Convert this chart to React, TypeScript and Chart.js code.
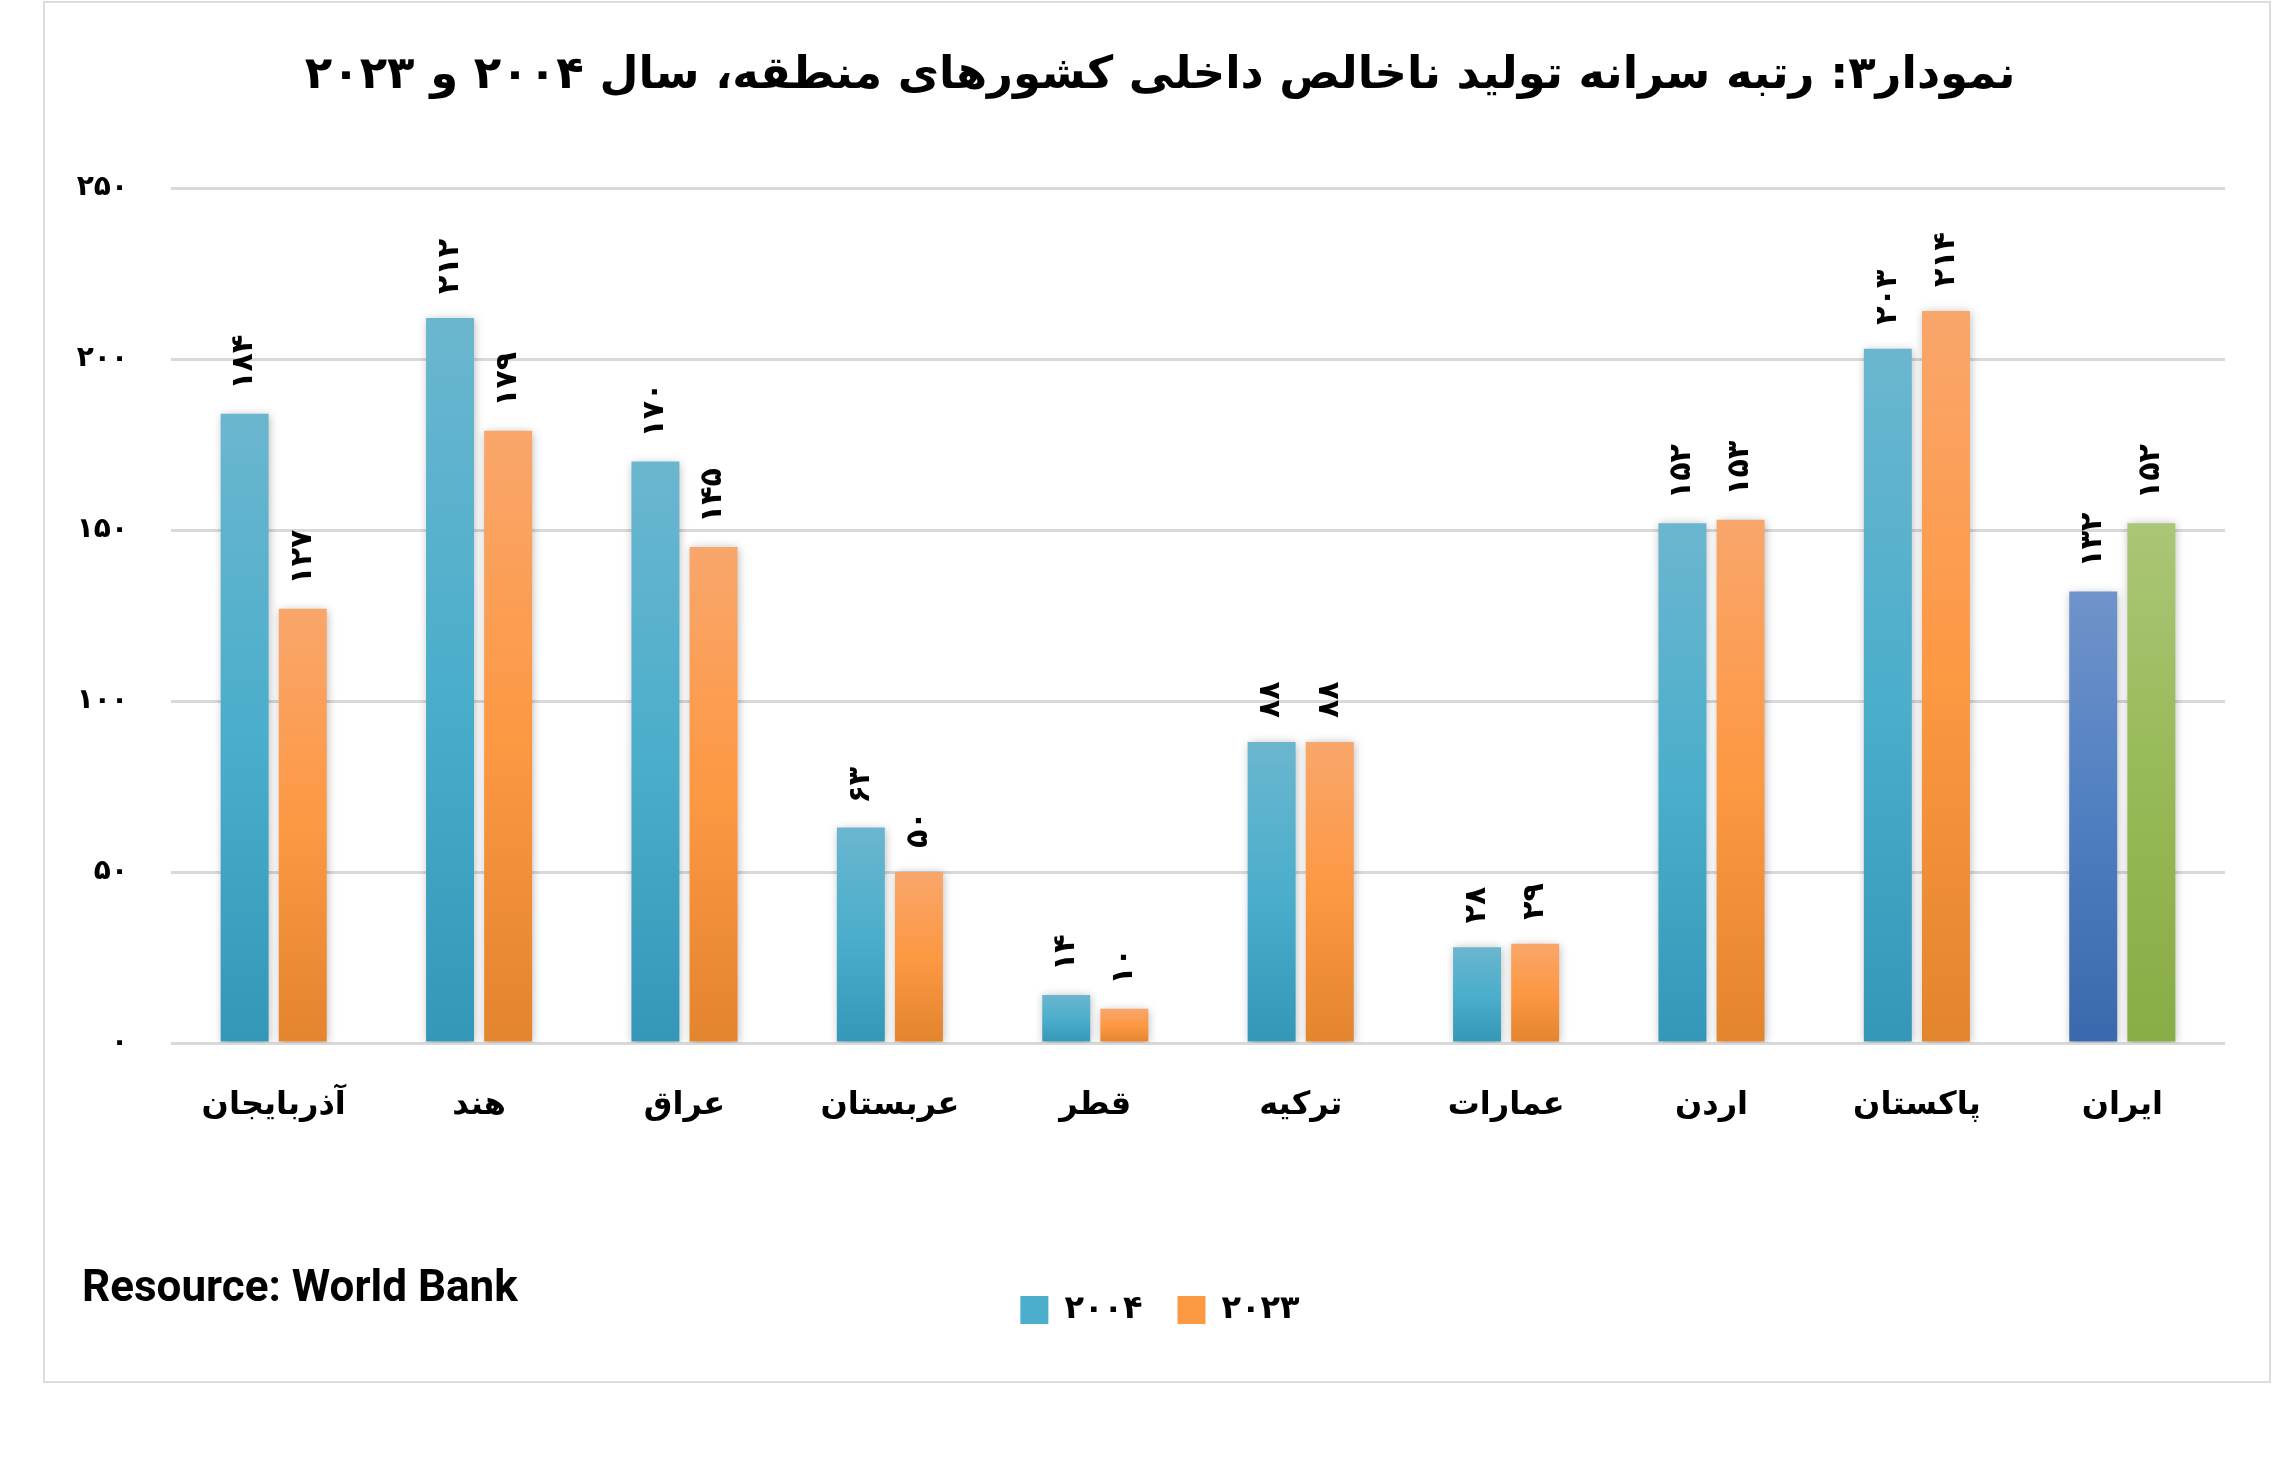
import React, { useEffect, useRef } from 'react';
import { Chart, registerables } from 'chart.js';

Chart.register(...registerables);

const categories = ['آذربایجان', 'هند', 'عراق', 'عربستان', 'قطر', 'ترکیه', 'عمارات', 'اردن', 'پاکستان', 'ایران'];
const seriesNames = ['۲۰۰۴', '۲۰۲۳'];
const values2004 = [184, 212, 170, 63, 14, 88, 28, 152, 203, 132];
const values2023 = [127, 179, 145, 50, 10, 88, 29, 153, 214, 152];
const yTickValues = [0, 50, 100, 150, 200, 250];
const highlightCategory = 'ایران';
const titleText = 'نمودار۳: رتبه سرانه تولید ناخالص داخلی کشورهای منطقه، سال ۲۰۰۴ و ۲۰۲۳';
const sourceText = 'Resource: World Bank';

const faDigits = (n: number | string) => String(n).replace(/\d/g, (d) => '۰۱۲۳۴۵۶۷۸۹'[+d]);

const PAL_BLUE = ['#6bb6cf', '#4baecb', '#3597b8'];
const PAL_ORANGE = ['#f9a66b', '#fd9843', '#e3842e'];
const PAL_IRAN_BLUE = ['#7093cb', '#4f7fc0', '#3a68ac'];
const PAL_IRAN_GREEN = ['#abc676', '#97b957', '#88ac46'];
const LEGEND_COLORS = ['#4baecb', '#fd9843'];

const FONT = '"DejaVu Sans", "Noto Sans", sans-serif';

const makeBg = (normal: string[], special: string[]) => (ctx: any) => {
  const chart = ctx.chart;
  const specialIndex = categories.indexOf(highlightCategory);
  const pal = ctx.dataIndex === specialIndex ? special : normal;
  if (ctx.type !== 'data' || !chart.scales || !chart.scales.y) return pal[1];
  const y = chart.scales.y;
  const top = y.getPixelForValue(ctx.raw);
  const bottom = y.getPixelForValue(0);
  if (!isFinite(top) || !isFinite(bottom) || Math.abs(bottom - top) < 1) return pal[1];
  const g = chart.ctx.createLinearGradient(0, top, 0, bottom);
  g.addColorStop(0, pal[0]);
  g.addColorStop(0.5, pal[1]);
  g.addColorStop(1, pal[2]);
  return g;
};

const barDecor = {
  id: 'barDecor',
  beforeDatasetsDraw(chart: any) {
    const c = chart.ctx;
    c.save();
    c.shadowColor = 'rgba(0,0,0,0.28)';
    c.shadowBlur = 9;
    c.shadowOffsetX = 1;
    c.shadowOffsetY = 1;
  },
  afterDatasetsDraw(chart: any) {
    const c = chart.ctx;
    c.restore();
    c.save();
    c.font = `bold 30px ${FONT}`;
    c.fillStyle = '#000';
    c.textAlign = 'left';
    c.textBaseline = 'middle';
    chart.data.datasets.forEach((ds: any, di: number) => {
      const meta = chart.getDatasetMeta(di);
      meta.data.forEach((bar: any, i: number) => {
        c.save();
        c.translate(bar.x, bar.y - 24);
        c.rotate(-Math.PI / 2);
        c.fillText(faDigits(ds.data[i]), 0, 0);
        c.restore();
      });
    });
    c.restore();
  },
};

export default function App() {
  const ref = useRef<HTMLCanvasElement | null>(null);

  useEffect(() => {
    if (!ref.current) return;
    const chart = new Chart(ref.current, {
      type: 'bar',
      data: {
        labels: categories,
        datasets: [
          {
            label: seriesNames[0],
            data: values2004,
            backgroundColor: makeBg(PAL_BLUE, PAL_IRAN_BLUE),
            borderWidth: 0,
          },
          {
            label: seriesNames[1],
            data: values2023,
            backgroundColor: makeBg(PAL_ORANGE, PAL_IRAN_GREEN),
            borderWidth: 0,
          },
        ],
      },
      options: {
        responsive: false,
        animation: false,
        devicePixelRatio: 1,
        layout: { padding: { left: 43, right: 0, top: 0, bottom: 133 } },
        datasets: { bar: { categoryPercentage: 0.566, barPercentage: 0.825 } },
        font: { family: FONT },
        plugins: {
          title: {
            display: true,
            text: titleText,
            color: '#000',
            font: { family: FONT, size: 45, weight: 'bold' },
            padding: { top: 49, bottom: 85 },
          },
          legend: {
            display: true,
            position: 'bottom',
            labels: {
              color: '#000',
              font: { family: FONT, size: 32, weight: 'bold' },
              boxWidth: 28,
              boxHeight: 28,
              padding: 35,
              generateLabels: (ch: any) =>
                ch.data.datasets.map((ds: any, i: number) => ({
                  text: ds.label,
                  fillStyle: LEGEND_COLORS[i],
                  strokeStyle: LEGEND_COLORS[i],
                  lineWidth: 0,
                  hidden: false,
                  datasetIndex: i,
                  fontColor: '#000',
                })),
            },
          },
          tooltip: { enabled: false },
        },
        scales: {
          x: {
            grid: { display: false, drawTicks: false },
            border: { display: false },
            ticks: {
              color: '#000',
              font: { family: FONT, size: 32, weight: 'bold' },
              padding: 43,
              maxRotation: 0,
            },
            afterFit: (s: any) => {
              s.height = 216;
            },
          },
          y: {
            min: 0,
            max: 250,
            afterBuildTicks: (s: any) => {
              s.ticks = yTickValues.map((v) => ({ value: v }));
            },
            grid: { color: '#d9d9d9', lineWidth: 3, drawTicks: false },
            border: { display: false },
            ticks: {
              color: '#000',
              font: { family: FONT, size: 28, weight: 'bold' },
              padding: 43,
              callback: (v: any) => faDigits(v),
            },
            afterFit: (s: any) => {
              s.width = 128;
            },
          },
          yRight: {
            position: 'right',
            display: true,
            min: 0,
            max: 250,
            grid: { display: false, drawTicks: false },
            border: { display: false },
            ticks: { display: false },
            afterFit: (s: any) => {
              s.width = 52;
            },
          },
        },
      },
      plugins: [barDecor],
    } as any);
    return () => chart.destroy();
  }, []);

  return (
    <div style={{ position: 'absolute', left: 0, top: 0, width: 2277, height: 1469, background: '#fff' }}>
      <div
        style={{
          position: 'absolute',
          left: 43,
          top: 1,
          width: 2228,
          height: 1382,
          border: '2px solid #dcdcdc',
          boxSizing: 'border-box',
        }}
      />
      <canvas ref={ref} width={2277} height={1469} style={{ position: 'absolute', left: 0, top: 0, display: 'block' }} />
      <div
        style={{
          position: 'absolute',
          left: 82,
          top: 1258,
          fontFamily: 'Roboto, "Liberation Sans", sans-serif',
          fontWeight: 'bold',
          fontSize: 44,
          lineHeight: '56px',
          color: '#000',
          whiteSpace: 'nowrap',
        }}
      >
        {sourceText}
      </div>
    </div>
  );
}
